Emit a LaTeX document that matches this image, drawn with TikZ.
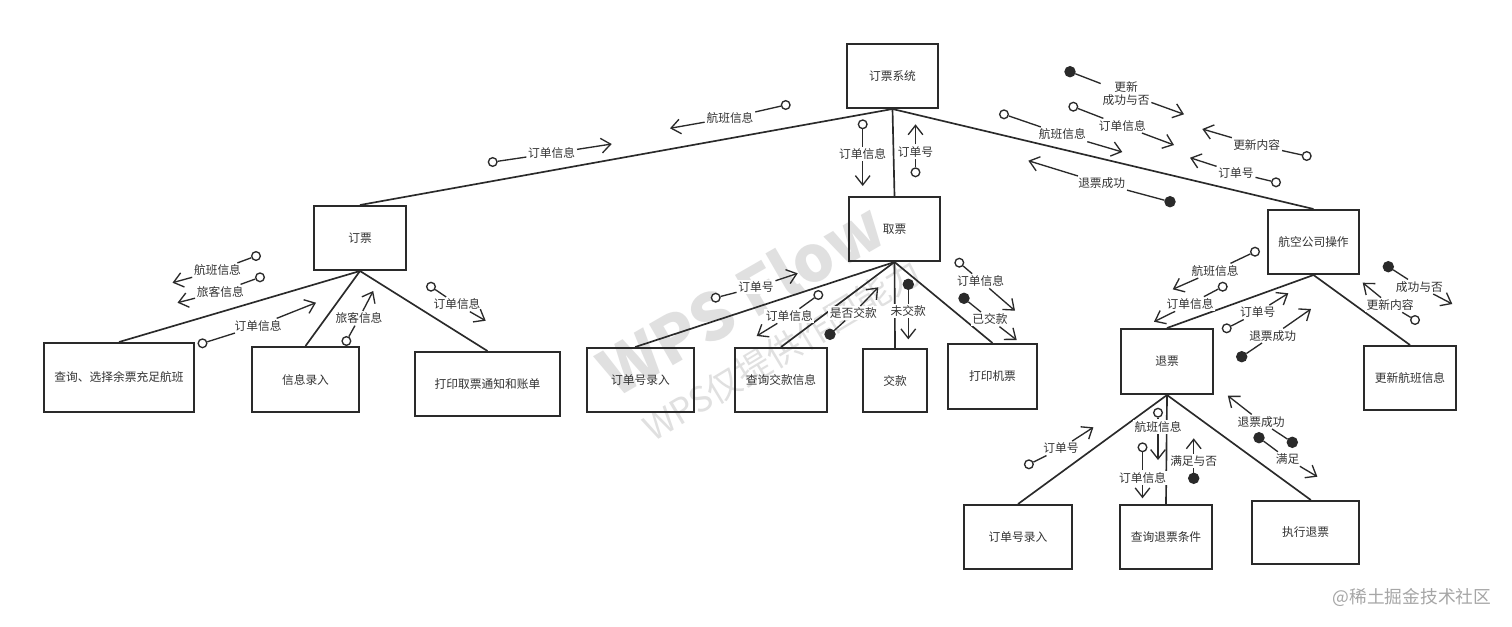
\documentclass[tikz,border=0pt]{standalone}
\usepackage{fontspec}
\setmainfont{Noto Sans CJK SC}
\usetikzlibrary{arrows.meta}
\definecolor{ink}{HTML}{2A2A2A}
\definecolor{txt}{HTML}{333333}
\tikzset{
  box/.style={draw=ink, line width=1.5pt, rectangle, inner sep=0pt, text=txt, font=\fontsize{8.8}{10}\selectfont},
  tree/.style={draw=ink, line width=1.25pt},
  cline/.style={draw=ink, line width=1pt},
  oc/.style={circle, draw=ink, fill=white, line width=1pt, minimum size=6.5pt, inner sep=0pt},
  fc/.style={circle, draw=ink, fill=ink, line width=1pt, minimum size=7.5pt, inner sep=0pt},
  lbl/.style={text=txt, fill=white, inner sep=1.2pt, align=center, font=\fontsize{8.8}{10}\selectfont},
  tipend/.style={-{Straight Barb[length=7pt,width=11pt]}},
  wmark/.style={text=black!12, inner sep=0pt}
}
\newcommand{\bx}[6]{\node[box, minimum width={(#4-#2)*0.75pt}, minimum height={(#5-#3)*0.75pt}] (#1) at ({(#2+#4)/2},{(#3+#5)/2}) {#6};}
\newcommand{\cp}[9]{%
  \node[#2] (#1c) at (#3,#4) {};
  \node[lbl] (#1l) at (#5,#6) {#9};
  \coordinate (#1t) at (#7,#8);
  \draw[cline] (#1c) -- (#1l);
  \draw[cline, tipend] (#1l) -- (#1t);
}
\begin{document}
\begin{tikzpicture}[x=0.75pt,y=-0.75pt]
\fill[white] (0,0) rectangle (1512,626);
\useasboundingbox (0,0) rectangle (1512,626);

% watermarks
\node[wmark, rotate=30, font=\bfseries\fontsize{48}{48}\selectfont] (wm1) at (741,298) {WPS Flow};
\node[wmark, rotate=31, font=\fontsize{26}{26}\selectfont] (wm2) at (782,350) {WPS仅提供作图能力};
\node[text=black!35, font=\fontsize{13.3}{14}\selectfont] (wm3) at (1412,597) {@稀土掘金技术社区};

% boxes
\bx{root}{847}{44}{938}{108}{订票系统}
\bx{dp}{314}{206}{406}{270}{订票}
\bx{qp}{849}{197}{940}{261}{取票}
\bx{hk}{1268}{210}{1359}{274}{航空公司操作}
\bx{cx}{44}{343}{194}{412}{查询、选择余票充足航班}
\bx{xx}{252}{347}{359}{412}{信息录入}
\bx{dy}{415}{352}{560}{416}{打印取票通知和账单}
\bx{dha}{587}{348}{694}{412}{订单号录入}
\bx{cj}{735}{348}{827}{412}{查询交款信息}
\bx{jk}{863}{349}{927}{412}{交款}
\bx{dj}{948}{344}{1037}{409}{打印机票}
\bx{tp}{1121}{329}{1213}{394}{退票}
\bx{gx}{1364}{346}{1456}{410}{更新航班信息}
\bx{dhb}{964}{505}{1072}{569}{订单号录入}
\bx{ct}{1120}{505}{1212}{569}{查询退票条件}
\bx{zx}{1252}{501}{1359}{564}{执行退票}

% tree connectors
\draw[tree] (root.south) -- (dp.north);
\draw[tree] (root.south) -- (qp.north);
\draw[tree] (root.south) -- (hk.north);
\draw[tree] (dp.south) -- (cx.north);
\draw[tree] (dp.south) -- (xx.north);
\draw[tree] (dp.south) -- (dy.north);
\draw[tree] (qp.south) -- ([xshift=-4pt]dha.north);
\draw[tree] (qp.south) -- (cj.north);
\draw[tree] (qp.south) -- (jk.north);
\draw[tree] (qp.south) -- (dj.north);
\draw[tree] (hk.south) -- (tp.north);
\draw[tree] (hk.south) -- (gx.north);
\draw[tree] (tp.south) -- (dhb.north);
\draw[tree] (tp.south) -- (ct.north);
\draw[tree] (tp.south) -- ([xshift=4pt]zx.north);

% couples: root level
\cp{a1}{oc}{785.7}{105}{730}{117.7}{670}{128.3}{航班信息}
\cp{a2}{oc}{492.7}{162}{551.7}{153.3}{611.7}{144}{订单信息}
\cp{a3}{oc}{862.7}{124.3}{862.7}{154}{862.7}{186}{订单信息}
\cp{a4}{oc}{915.5}{172.3}{915.5}{151.7}{915.5}{124.3}{订单号}
\cp{a5}{fc}{1070}{71.7}{1126}{93.3}{1184}{114.3}{更新\\成功与否}
\cp{a6}{oc}{1073.3}{106.7}{1122.3}{125.7}{1174}{145}{订单信息}
\cp{a7}{oc}{1004}{114.3}{1062.3}{134.3}{1122.3}{152}{航班信息}
\cp{a8}{fc}{1170}{201.7}{1101.7}{183.3}{1028.3}{160.7}{退票成功}
\cp{a9}{oc}{1306.7}{156}{1256.7}{145}{1202.3}{129}{更新内容}
\cp{a10}{oc}{1276}{182.3}{1236}{172.7}{1190}{157.7}{订单号}

% couples: 订票
\cp{b1}{oc}{256}{256}{217.5}{270.3}{172.5}{282.7}{航班信息}
\cp{b2}{oc}{260}{277.3}{220.4}{291.7}{177.5}{302.7}{旅客信息}
\cp{b3}{oc}{202.5}{343.3}{258.2}{325.7}{316}{302.7}{订单信息}
\cp{b4}{oc}{346.4}{341}{359}{318.3}{373.2}{291}{旅客信息}
\cp{b5}{oc}{431}{286.7}{457}{304.3}{485.7}{320.7}{订单信息}

% couples: 取票
\cp{c1}{oc}{715.7}{297.7}{756}{287.3}{797.7}{273.3}{订单号}
\cp{c2}{oc}{818.3}{295}{789.3}{316}{756.7}{336}{订单信息}
\cp{c3}{fc}{830}{334.3}{853.3}{313.3}{878.3}{287.3}{是否交款}
\cp{c4}{fc}{908.3}{284.3}{908.3}{311}{908.3}{339.3}{未交款}
\cp{c5}{oc}{959.3}{262.7}{980.7}{281}{1015}{310.7}{订单信息}
\cp{c6}{fc}{964}{298.3}{990}{319.3}{1016.7}{340}{已交款}

% couples: 航空公司操作
\cp{d1}{oc}{1255}{251.7}{1215}{270.7}{1172.7}{289.3}{航班信息}
\cp{d2}{oc}{1222.7}{286.7}{1190}{304}{1154}{321.7}{订单信息}
\cp{d3}{oc}{1226.7}{328.3}{1257.7}{312.3}{1288.3}{293.3}{订单号}
\cp{d4}{fc}{1241.7}{356.7}{1272.7}{335.7}{1311}{309}{退票成功}
\cp{d5}{oc}{1415}{320}{1390}{305}{1362.7}{282.7}{更新内容}
\cp{d6}{fc}{1388.3}{266.7}{1419.3}{286.7}{1452.3}{304}{成功与否}

% couples: 退票
\cp{e1}{oc}{1028.9}{464.3}{1061}{448.3}{1093.4}{427.3}{订单号}
\cp{e2}{oc}{1158}{412.7}{1158}{426.7}{1158}{460}{航班信息}
\cp{e3}{oc}{1142.5}{447.3}{1142.5}{477.7}{1142.5}{498.3}{订单信息}
\cp{e4}{fc}{1193.7}{478.3}{1193.7}{461}{1193.7}{438.3}{满足与否}
\cp{e5}{fc}{1292.3}{442.3}{1261}{421.7}{1227.8}{395.7}{退票成功}
\cp{e6}{fc}{1259}{437.7}{1287.6}{459}{1317.4}{476.7}{满足}
\end{tikzpicture}
\end{document}
